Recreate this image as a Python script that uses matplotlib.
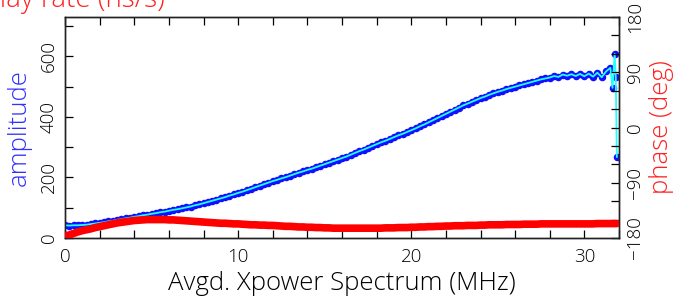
import numpy as np
import matplotlib
matplotlib.use("Agg")
import matplotlib.pyplot as plt
from matplotlib.ticker import MultipleLocator, FixedLocator

# ---- data ----
freq_step_mhz = 0.25
freq_main = np.arange(0, 31.5, freq_step_mhz)          # channel frequencies (MHz)
freq_tail = [31.5, 31.625, 31.75, 31.8125, 31.875]     # last edge channels

amp_main = [
    42, 41, 42, 42, 43, 44, 46, 48,
    50, 52, 55, 57, 60, 62, 65, 67,
    70, 72, 75, 77, 80, 82, 85, 87,
    90, 93, 95, 98, 101, 104, 108, 111,
    115, 119, 123, 127, 131, 135, 140, 144,
    149, 153, 158, 163, 168, 173, 178, 183,
    188, 192, 197, 201, 206, 211, 216, 220,
    225, 229, 234, 239, 244, 249, 254, 259,
    264, 269, 275, 281, 287, 292, 298, 304,
    310, 316, 321, 327, 333, 339, 344, 350,
    356, 362, 369, 375, 382, 389, 396, 403,
    410, 417, 424, 431, 438, 444, 450, 456,
    462, 467, 473, 478, 483, 487, 492, 496,
    500, 504, 508, 512, 516, 520, 524, 527,
    530, 535, 532, 540, 536, 541, 535, 542,
    534, 543, 533, 546, 531, 550,
]
amp_tail = [562, 496, 608, 532, 268]

phase_main = [
    -177, -175, -172.5, -170, -168, -166.5, -165, -163,
    -161.5, -160, -158.5, -157, -155.5, -154.5, -153.5, -152.5,
    -151.5, -151, -150.5, -150, -150, -150, -150, -150,
    -150.5, -150.5, -151, -151.5, -152, -152.5, -153, -153.5,
    -154, -154.5, -155, -155.5, -156, -156, -156.5, -157,
    -157, -157.5, -158, -158.5, -158.5, -159, -159, -159.5,
    -159.5, -160, -160.5, -161, -161, -161.5, -162, -162,
    -162.5, -162.5, -163, -163, -163.5, -163.5, -164, -164,
    -164, -164, -164, -164, -164, -164, -164, -164,
    -164, -164, -163.5, -163.5, -163.5, -163, -163, -163,
    -162.5, -162.5, -162, -162, -161.5, -161.5, -161, -161,
    -160.5, -160.5, -160, -160, -160, -159.5, -159.5, -159.5,
    -159, -159, -158.5, -158.5, -158.5, -158.5, -158, -158,
    -158, -158, -157.5, -157.5, -157.5, -157.5, -157, -157,
    -157, -157, -157, -157, -157, -157, -157, -157,
    -157, -157, -157, -156.5, -156.5, -156.5,
]
phase_tail = [-156.5, -156.5, -156.5, -156.5, -156.5]

freq = np.concatenate([freq_main, freq_tail])
amp = np.array(amp_main + amp_tail, dtype=float)
phase = np.array(phase_main + phase_tail, dtype=float)

x_ticks = [0, 10, 20, 30]
amp_ticks = [0, 200, 400, 600]
phase_ticks = [-180, -90, 0, 90, 180]

title_text = "Delay rate (ns/s)"
xlabel_text = "Avgd. Xpower Spectrum (MHz)"
ylabel_left = "amplitude"
ylabel_right = "phase (deg)"

# ---- figure ----
W, H = 678, 302
plt.rcParams['font.family'] = ['Open Sans', 'DejaVu Sans']
plt.rcParams['font.weight'] = 'light'
plt.rcParams['axes.labelweight'] = 'light'
fig = plt.figure(figsize=(W / 100, H / 100), dpi=100)
ax = fig.add_axes([65 / W, 1 - 238 / H, (619 - 65) / W, (238 - 17) / H])

ax.plot(freq, amp, 'o', color='#1010ff', ms=4.4, mec='#1010ff', zorder=2)
ax.plot(freq, amp, '-', color='#22ffff', lw=1.3, zorder=3)

ax.set_xlim(0, 32)
ax.set_ylim(0, 730)
ax.xaxis.set_major_locator(FixedLocator(x_ticks))
ax.xaxis.set_minor_locator(MultipleLocator(2))
ax.yaxis.set_major_locator(FixedLocator(amp_ticks))
ax.yaxis.set_minor_locator(MultipleLocator(100))

tick_fs = 13.5
ax.tick_params(axis='both', which='both', direction='in', top=True, right=False,
               length=6, width=0.9, labelsize=tick_fs)
ax.tick_params(axis='x', which='major', pad=7)
ax.tick_params(axis='y', which='major', pad=5)
for lab in ax.get_yticklabels():
    lab.set_rotation(90)
    lab.set_va('center')

ax.set_xlabel(xlabel_text, fontsize=18.5, labelpad=4)
ax.set_ylabel(ylabel_left, fontsize=18.5, color='#3030ff', labelpad=6)

ax2 = ax.twinx()
ax2.plot(freq, phase, '-', color='#ff0000', lw=5.5, solid_capstyle='round', zorder=3)
ax2.set_ylim(-180, 180)
ax2.yaxis.set_major_locator(FixedLocator(phase_ticks))
ax2.yaxis.set_minor_locator(MultipleLocator(30))
ax2.tick_params(axis='y', which='both', direction='in', length=6, width=0.9,
                labelsize=tick_fs, pad=5)
for lab in ax2.get_yticklabels():
    lab.set_rotation(90)
    lab.set_va('center')
ax2.set_ylabel(ylabel_right, fontsize=18.5, color='#ff2020', labelpad=4)

for a in (ax, ax2):
    for s in a.spines.values():
        s.set_linewidth(1.0)
        s.set_color('#222222')

fig.text(165 / W, 1 - 7 / H, title_text, ha='right', va='baseline',
         color='#ff2020', fontsize=20)

fig.savefig('out.png', dpi=100)
